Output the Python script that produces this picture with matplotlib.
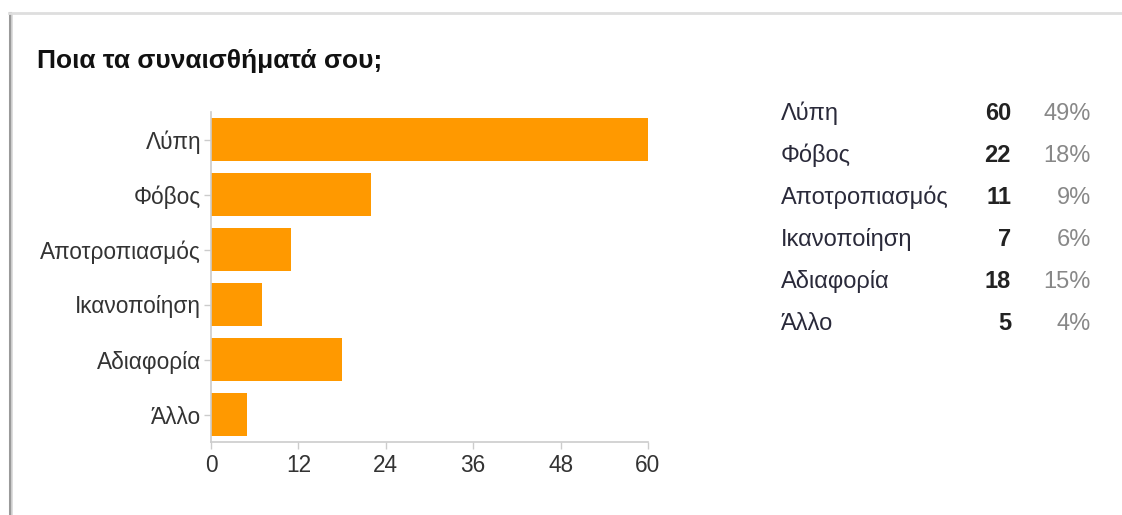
import matplotlib
matplotlib.use("Agg")
import matplotlib.pyplot as plt
from matplotlib.lines import Line2D

categories = ["Λύπη", "Φόβος", "Αποτροπιασμός", "Ικανοποίηση", "Αδιαφορία", "Άλλο"]
counts = [60, 22, 11, 7, 18, 5]
percents = ["49%", "18%", "9%", "6%", "15%", "4%"]
xticks = [0, 12, 24, 36, 48, 60]
title = "Ποια τα συναισθήματά σου;"

W, H = 1122, 515
plt.rcParams['font.family'] = ['Liberation Sans', 'DejaVu Sans']
fig = plt.figure(figsize=(W / 100, H / 100), dpi=100)
fig.patch.set_facecolor("white")

# frame (left and top border with subtle shadow)
fig.add_artist(Line2D([10 / W, 10 / W], [0, 1 - 13 / H], transform=fig.transFigure, color="#9a9a9a", lw=2.2))
fig.add_artist(Line2D([12 / W, 12 / W], [0, 1 - 14 / H], transform=fig.transFigure, color="#d8d8d8", lw=1.2))
fig.add_artist(Line2D([9 / W, 1], [1 - 13 / H, 1 - 13 / H], transform=fig.transFigure, color="#dedede", lw=2))

ax = fig.add_axes([211 / W, 1 - 442 / H, (648 - 211) / W, (442 - 112) / H])
ypos = list(range(len(categories)))
ax.barh(ypos, counts, height=0.79, color="#FF9900", zorder=2)
ax.set_ylim(len(categories) - 0.5, -0.5)
ax.set_xlim(0, 60)
ax.set_xticks(xticks)
ax.set_xticklabels([str(t) for t in xticks])
ax.set_yticks(ypos)
ax.set_yticklabels(categories)
for s in ["top", "right"]:
    ax.spines[s].set_visible(False)
for s in ["left", "bottom"]:
    ax.spines[s].set_color("#cccccc")
    ax.spines[s].set_linewidth(1.2)
ax.tick_params(axis="both", colors="#cccccc", length=5, width=1.0, labelsize=16.3, labelcolor="#333333")
ax.tick_params(axis="x", pad=4)
ax.tick_params(axis="y", pad=2)

fig.text(37 / W, 1 - 68 / H, title, fontsize=19, fontweight="bold", color="#111111", va="baseline", ha="left")

row_base = [120, 162, 204, 246, 288, 330]
for name, c, p, y in zip(categories, counts, percents, row_base):
    fy = 1 - y / H
    fig.text(781 / W, fy, name, fontsize=17, color="#2a2a3a", va="baseline", ha="left")
    fig.text(1011 / W, fy, str(c), fontsize=17, fontweight="bold", color="#222222", va="baseline", ha="right")
    fig.text(1091 / W, fy, p, fontsize=17, color="#888888", va="baseline", ha="right")

fig.savefig("out.png", dpi=100, facecolor="white")
